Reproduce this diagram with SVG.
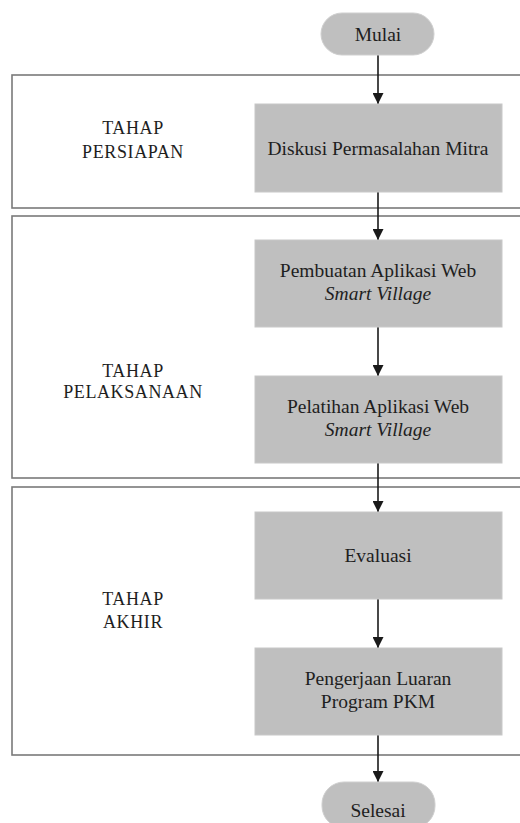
<svg xmlns="http://www.w3.org/2000/svg" width="520" height="823" viewBox="0 0 520 823">
  <style>
    .sec { fill: #ffffff; stroke: #7a7a7a; stroke-width: 1.6; }
    .box { fill: #bfbfbf; stroke: #c8c8c8; stroke-width: 1; }
    .term { fill: #bfbfbf; stroke: #cfcfcf; stroke-width: 1; }
    .t { font-family: "Liberation Serif", "DejaVu Serif", "Times New Roman", serif; font-size: 19.5px; fill: #1e1e1e; text-anchor: middle; }
    .it { font-style: italic; }
    .lbl { font-family: "Liberation Serif", "DejaVu Serif", "Times New Roman", serif; font-size: 18px; fill: #1e1e1e; text-anchor: middle; letter-spacing: 0.6px; }
    .conn { stroke: #1a1a1a; stroke-width: 1.6; fill: none; marker-end: url(#ah); }
  </style>
  <defs>
    <marker id="ah" markerWidth="11" markerHeight="11" refX="11" refY="5.5" orient="auto" markerUnits="userSpaceOnUse">
      <path d="M0,0 L11,5.5 L0,11 Z" fill="#1a1a1a"/>
    </marker>
  </defs>
  <rect width="520" height="823" fill="#ffffff"/>

  <g id="section-persiapan">
    <rect class="sec" x="12" y="75" width="520" height="133"/>
    <text class="lbl" x="133" y="134">TAHAP</text>
    <text class="lbl" x="133" y="158">PERSIAPAN</text>
  </g>
  <g id="section-pelaksanaan">
    <rect class="sec" x="12" y="216" width="520" height="262"/>
    <text class="lbl" x="133" y="377">TAHAP</text>
    <text class="lbl" x="133" y="398">PELAKSANAAN</text>
  </g>
  <g id="section-akhir">
    <rect class="sec" x="12" y="487" width="520" height="268"/>
    <text class="lbl" x="133" y="605">TAHAP</text>
    <text class="lbl" x="133" y="628">AKHIR</text>
  </g>

  <g id="connectors">
    <line class="conn" x1="378" y1="55" x2="378" y2="104"/>
    <line class="conn" x1="378" y1="192" x2="378" y2="240"/>
    <line class="conn" x1="378" y1="327" x2="378" y2="376"/>
    <line class="conn" x1="378" y1="463" x2="378" y2="512"/>
    <line class="conn" x1="378" y1="599" x2="378" y2="648"/>
    <line class="conn" x1="378" y1="735" x2="378" y2="782"/>
  </g>

  <g id="mulai">
    <rect class="term" x="321" y="13" width="113" height="42" rx="21" ry="21"/>
    <text class="t" x="378" y="41">Mulai</text>
  </g>
  <g id="diskusi">
    <rect class="box" x="255" y="104" width="247" height="88"/>
    <text class="t" x="378" y="155">Diskusi Permasalahan Mitra</text>
  </g>
  <g id="pembuatan">
    <rect class="box" x="255" y="240" width="247" height="87"/>
    <text class="t" x="378" y="277">Pembuatan Aplikasi Web</text>
    <text class="t it" x="378" y="300">Smart Village</text>
  </g>
  <g id="pelatihan">
    <rect class="box" x="255" y="376" width="247" height="87"/>
    <text class="t" x="378" y="413">Pelatihan Aplikasi Web</text>
    <text class="t it" x="378" y="436">Smart Village</text>
  </g>
  <g id="evaluasi">
    <rect class="box" x="255" y="512" width="247" height="87"/>
    <text class="t" x="378" y="562">Evaluasi</text>
  </g>
  <g id="pengerjaan">
    <rect class="box" x="255" y="648" width="247" height="87"/>
    <text class="t" x="378" y="685">Pengerjaan Luaran</text>
    <text class="t" x="378" y="708">Program PKM</text>
  </g>
  <g id="selesai">
    <rect class="term" x="322" y="782" width="113" height="46" rx="22" ry="22"/>
    <text class="t" x="378" y="817">Selesai</text>
  </g>
</svg>
